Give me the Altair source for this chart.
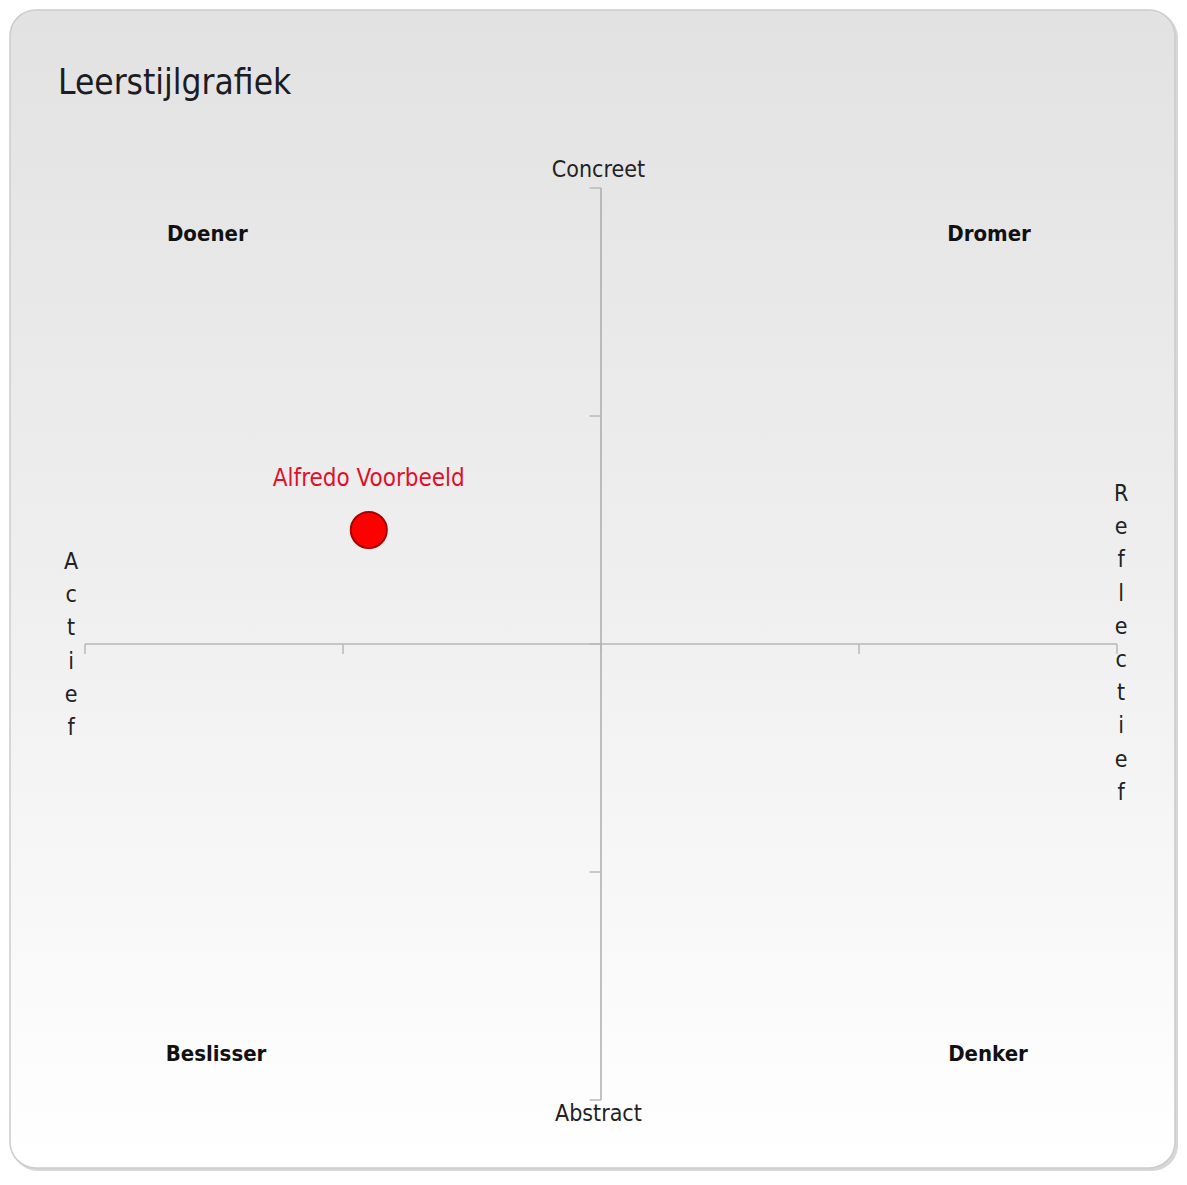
import altair as alt
import pandas as pd

# ---- data ----
quadrant_names = ["Doener", "Dromer", "Beslisser", "Denker"]
quadrant_x = [-76.3, 75.2, -74.6, 75.0]
quadrant_y = [90, 90, -90, -90]

axis_end_labels = ["Concreet", "Abstract"]
axis_end_x = [-0.5, -0.5]
axis_end_y = [104, -103]

side_labels = ["Actief", "Reflectief"]
side_x = [-102.7, 100.8]
side_y_first_letter = [18.0, 32.9]

person_names = ["Alfredo Voorbeeld"]
person_x = [-45]
person_y = [25]

tick_values = [-100, -50, 0, 50, 100]
title_text = "Leerstijlgrafiek"

# ---- geometry of the canvas ----
W, H = 1171, 1163
PX_X, PX_Y = 5.16, 4.56
x_min = -100 - 77 / PX_X
x_max = x_min + W / PX_X
y_max = 100 + 180 / PX_Y
y_min = y_max - H / PX_Y

xs = alt.Scale(domain=[x_min, x_max], nice=False, zero=False)
ys = alt.Scale(domain=[y_min, y_max], nice=False, zero=False)

FONT = "DejaVu Sans Condensed, Open Sans, sans-serif"

# ---- background ----
bg_df = pd.DataFrame({"k": [0]})
shadow = alt.Chart(bg_df).mark_rect(
    cornerRadius=26, fill="#bdbdbd", opacity=0.6
).encode(x=alt.value(4), x2=alt.value(1170), y=alt.value(4), y2=alt.value(1163))
background = alt.Chart(bg_df).mark_rect(
    cornerRadius=26,
    stroke="#cccccc",
    strokeWidth=1.5,
    fill=alt.LinearGradient(
        gradient="linear",
        stops=[
            alt.GradientStop(color="#e2e2e2", offset=0),
            alt.GradientStop(color="#efefef", offset=0.5),
            alt.GradientStop(color="#ffffff", offset=1),
        ],
        x1=0, x2=0, y1=0, y2=1,
    ),
).encode(x=alt.value(2), x2=alt.value(1167), y=alt.value(2), y2=alt.value(1160))

# ---- axes ----
axes_df = pd.DataFrame({
    "x": [tick_values[0], 0],
    "x2": [tick_values[-1], 0],
    "y": [0, tick_values[0]],
    "y2": [0, tick_values[-1]],
})
axes = alt.Chart(axes_df).mark_rule(color="#9a9a9a", strokeWidth=1.2).encode(
    x=alt.X("x:Q", scale=xs, axis=None),
    x2="x2:Q",
    y=alt.Y("y:Q", scale=ys, axis=None),
    y2="y2:Q",
)

hticks_df = pd.DataFrame({"x": tick_values, "y": [0] * 5, "y2": [-2.2] * 5})
hticks = alt.Chart(hticks_df).mark_rule(color="#b8b8b8", strokeWidth=1.5).encode(
    x=alt.X("x:Q", scale=xs, axis=None),
    y=alt.Y("y:Q", scale=ys, axis=None),
    y2="y2:Q",
)
vticks_df = pd.DataFrame({"y": tick_values, "x": [-2.2] * 5, "x2": [0] * 5})
vticks = alt.Chart(vticks_df).mark_rule(color="#b8b8b8", strokeWidth=1.5).encode(
    x=alt.X("x:Q", scale=xs, axis=None),
    x2="x2:Q",
    y=alt.Y("y:Q", scale=ys, axis=None),
)

# ---- labels ----
quad_df = pd.DataFrame({"name": quadrant_names, "x": quadrant_x, "y": quadrant_y})
quads = alt.Chart(quad_df).mark_text(
    font=FONT, fontSize=22, fontWeight="bold", color="#111111"
).encode(
    x=alt.X("x:Q", scale=xs, axis=None),
    y=alt.Y("y:Q", scale=ys, axis=None),
    text="name:N",
)

end_df = pd.DataFrame({"name": axis_end_labels, "x": axis_end_x, "y": axis_end_y})
ends = alt.Chart(end_df).mark_text(font=FONT, fontSize=23, color="#222222").encode(
    x=alt.X("x:Q", scale=xs, axis=None),
    y=alt.Y("y:Q", scale=ys, axis=None),
    text="name:N",
)

side_df = pd.DataFrame({
    "name": ["\n".join(list(s)) for s in side_labels],
    "x": side_x,
    "y": side_y_first_letter,
})
sides = alt.Chart(side_df).mark_text(
    font=FONT, fontSize=23, color="#222222", lineBreak="\n", lineHeight=33.2
).encode(
    x=alt.X("x:Q", scale=xs, axis=None),
    y=alt.Y("y:Q", scale=ys, axis=None),
    text="name:N",
)

# ---- person ----
person_df = pd.DataFrame({"name": person_names, "x": person_x, "y": person_y})
point = alt.Chart(person_df).mark_point(
    shape="circle", filled=True, size=1300, color="#ff0000",
    stroke="#a80000", strokeWidth=2, opacity=1
).encode(
    x=alt.X("x:Q", scale=xs, axis=None),
    y=alt.Y("y:Q", scale=ys, axis=None),
)
point_label = alt.Chart(person_df).mark_text(
    font=FONT, fontSize=24, color="#e0102a", dy=-51
).encode(
    x=alt.X("x:Q", scale=xs, axis=None),
    y=alt.Y("y:Q", scale=ys, axis=None),
    text="name:N",
)

# ---- title ----
title = alt.Chart(pd.DataFrame({"t": [title_text]})).mark_text(
    font=FONT, fontSize=35, color="#1c1c24", align="left", baseline="alphabetic"
).encode(x=alt.value(50), y=alt.value(86), text="t:N")

chart = alt.layer(
    shadow, background, axes, hticks, vticks, quads, ends, sides,
    point, point_label, title
).properties(
    width=W, height=H, autosize=alt.AutoSizeParams(type="none"), padding=0
).configure_view(stroke=None)

chart.save("out.html", embed_options={"renderer": "svg", "actions": False})
